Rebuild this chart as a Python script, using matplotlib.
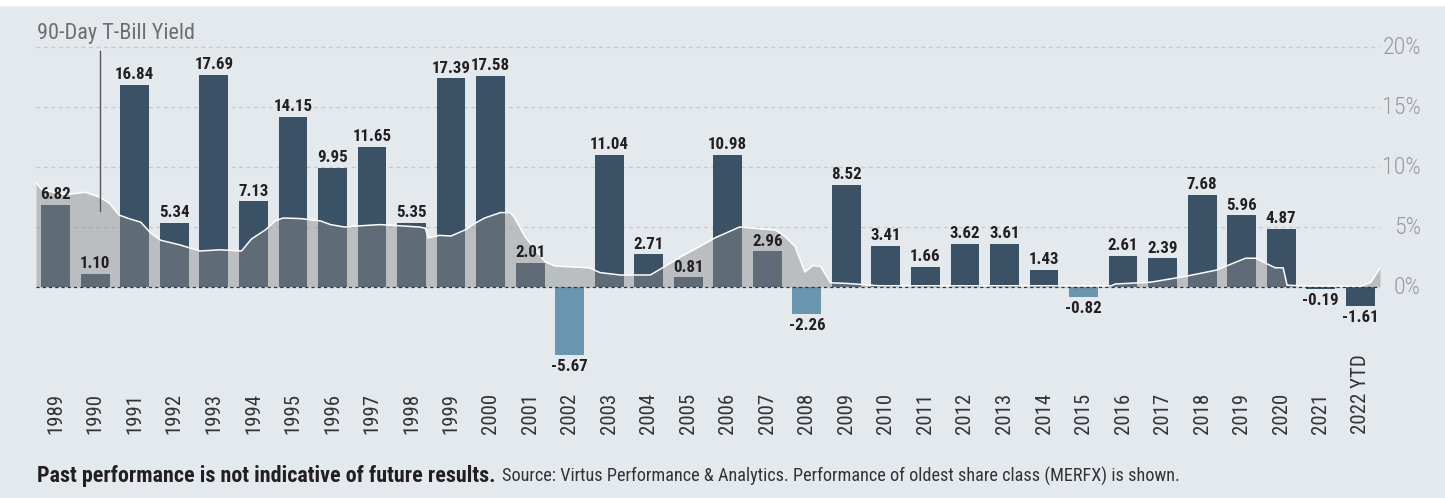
import matplotlib
matplotlib.use("Agg")
import matplotlib.pyplot as plt
from matplotlib import font_manager
import numpy as np

# narrow face, pick the first one that is installed
names = {f.name for f in font_manager.fontManager.ttflist}
prefs = ["Roboto Condensed", "Archivo Narrow", "Barlow Semi Condensed", "Asap Condensed", "DejaVu Sans"]
FONT = next(p for p in prefs if p in names)
plt.rcParams["font.family"] = [FONT, "DejaVu Sans"]

years = ["1989", "1990", "1991", "1992", "1993", "1994", "1995", "1996", "1997",
         "1998", "1999", "2000", "2001", "2002", "2003", "2004", "2005", "2006",
         "2007", "2008", "2009", "2010", "2011", "2012", "2013", "2014", "2015",
         "2016", "2017", "2018", "2019", "2020", "2021", "2022 YTD"]
returns = [6.82, 1.10, 16.84, 5.34, 17.69, 7.13, 14.15, 9.95, 11.65, 5.35, 17.39,
           17.58, 2.01, -5.67, 11.04, 2.71, 0.81, 10.98, 2.96, -2.26, 8.52, 3.41,
           1.66, 3.62, 3.61, 1.43, -0.82, 2.61, 2.39, 7.68, 5.96, 4.87, -0.19, -1.61]
light_years = ["2002", "2008", "2015"]

# 90-day T-bill yield (approx)
tbill_t = [1988.5, 1988.65, 1989.25, 1989.75, 1990.1, 1990.35, 1990.6, 1990.85,
           1991.15, 1991.4, 1991.65, 1992.15, 1992.65, 1993.15, 1993.7, 1993.95,
           1994.3, 1994.55, 1994.75, 1995.2, 1995.7, 1995.95, 1996.3, 1996.7,
           1997.2, 1997.7, 1998.2, 1998.35, 1998.42, 1998.7, 1999.0, 1999.35,
           1999.6, 1999.85, 2000.25, 2000.5, 2000.6, 2000.87, 2001.13, 2001.38,
           2001.63, 2002.5, 2002.77, 2003.28, 2004.04, 2004.3, 2004.8, 2005.3,
           2005.68, 2006.3, 2007.2, 2007.45, 2007.7, 2007.95, 2008.15, 2008.35,
           2008.6, 2009.0, 2009.85, 2015.7, 2015.8, 2016.7, 2017.6, 2018.35,
           2019.1, 2019.35, 2019.85, 2020.05, 2020.15, 2020.5, 2022.0, 2022.27, 2022.5]
tbill_v = [8.7, 8.1, 7.7, 7.9, 7.5, 7.0, 6.0, 5.7,
           5.4, 4.5, 3.9, 3.5, 3.0, 3.1, 3.0, 4.0,
           4.75, 5.5, 5.75, 5.7, 5.5, 5.2, 5.0, 5.1,
           5.2, 5.1, 5.0, 4.9, 4.1, 4.3, 4.25, 4.75,
           5.3, 5.75, 6.2, 6.2, 5.8, 4.2, 3.1, 2.1,
           1.75, 1.6, 1.2, 1.0, 1.0, 1.5, 2.5, 3.4,
           4.1, 5.0, 4.75, 4.2, 3.4, 1.25, 1.8, 1.7,
           0.35, 0.3, 0.1, 0.1, 0.25, 0.4, 0.9, 1.4,
           2.4, 2.4, 1.6, 1.6, 0.15, 0.1, 0.05, 0.4, 1.6]

BG = "#e4e9ed"
DARK = "#3b5266"
LIGHT = "#6b96af"

W, H = 1445, 498
fig = plt.figure(figsize=(W / 100, H / 100), dpi=100, facecolor=BG)
fig.patches.append(plt.Rectangle((0, 1 - 5 / H), 1, 5 / H, transform=fig.transFigure,
                                 color="white", zorder=0))
renderer = fig.canvas.get_renderer()


def fit_size(s, target, **kw):
    # font size that makes string s about target px wide
    t = fig.text(0, 0, s, fontsize=20, **kw)
    w = t.get_window_extent(renderer).width
    t.remove()
    return 20 * target / w


lab_size = fit_size("16.84", 39, fontweight="bold")
year_size = fit_size("1989", 41)
pct_size = fit_size("20%", 39, fontweight="light")
title_size = fit_size("90-Day T-Bill Yield", 158)

ax = fig.add_axes([36 / W, 1 - 365 / H, 1344 / W, 336 / H])
ax.set_facecolor(BG)
ax.set_xlim(-0.5, 33.5)
ax.set_ylim(-6.5, 21.5)
for s in ax.spines.values():
    s.set_visible(False)
ax.set_xticks([])
ax.set_yticks([])

x = np.arange(len(years))
colors = [LIGHT if y in light_years else DARK for y in years]

# grid + right side labels
for g in [5, 10, 15, 20]:
    ax.axhline(g, color="#c6c9cc", lw=0.9, ls=(0, (3, 3)), zorder=1)
for g in [0, 5, 10, 15, 20]:
    ax.text(1.0305, g, f"{g}%", transform=ax.get_yaxis_transform(), ha="right",
            va="center", fontsize=pct_size, fontweight="light", color="#9a9a9a")

ax.bar(x, returns, width=0.73, color=colors, zorder=2)

# t-bill area drawn over the bars
tx = np.array(tbill_t) - 1989
ax.fill_between(tx, 0, tbill_v, color="#8b8b8b", alpha=0.45, lw=0, zorder=3)
ax.plot(tx, tbill_v, color="white", lw=1.1, zorder=4)
ax.axhline(0, color="#333333", lw=0.9, ls=(0, (2.5, 2.5)), zorder=4)

for xi, v in zip(x, returns):
    off = 2 if v >= 0 else -3
    ax.annotate(f"{v:.2f}", (xi, v), xytext=(0, off), textcoords="offset points",
                ha="center", va="bottom" if v >= 0 else "top", fontsize=lab_size,
                fontweight="bold", color="#231f20", zorder=5)

# year labels
for xi, y in zip(x, years):
    ax.text(xi, -12.25, y, rotation=90, ha="center", va="bottom", fontsize=year_size,
            color="#333333", clip_on=False)

# label + pointer for the yield series
fig.text(37 / W, 1 - 33 / H, "90-Day T-Bill Yield", ha="left", va="center",
         fontsize=title_size, color="#6e6e6e")
ax.plot([1.11, 1.11], [19.7, 6.3], color="#555555", lw=1, zorder=5)

# footnote, bold lead then plain text
foot_y = 1 - 476 / H
t1 = fig.text(37 / W, foot_y, "Past performance is not indicative of future results.",
              ha="left", va="center", fontsize=12, fontweight="bold", color="#231f20")
w1 = t1.get_window_extent(renderer).width
t1.set_fontsize(12 * 458 / w1)
bb = t1.get_window_extent(renderer)
t2 = fig.text((bb.x1 + 7) / W, foot_y,
              "Source: Virtus Performance & Analytics. Performance of oldest share class (MERFX) is shown.",
              ha="left", va="center", fontsize=12, color="#333333")
w2 = t2.get_window_extent(renderer).width
t2.set_fontsize(12 * (1178 - bb.x1 - 7) / w2)

fig.savefig("out.png", dpi=100, facecolor=BG)
